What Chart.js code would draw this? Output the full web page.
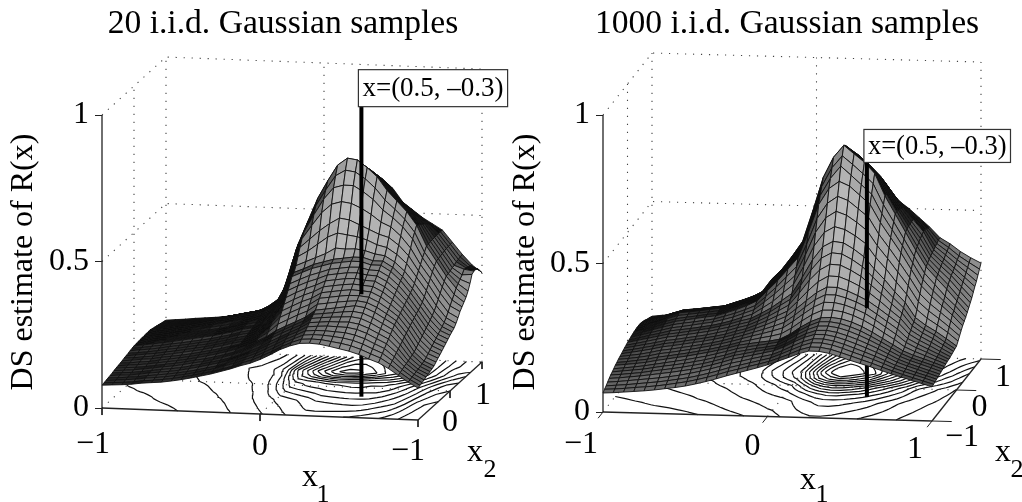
<!DOCTYPE html>
<html><head><meta charset="utf-8">
<style>html,body{margin:0;padding:0;background:#fff;overflow:hidden;width:1022px;height:502px}
canvas{position:absolute;top:0}</style>
<script src="https://cdn.jsdelivr.net/npm/chart.js@4"></script></head><body>
<canvas id="cL" width="566" height="502" style="left:0"></canvas>
<canvas id="cR" width="554" height="502" style="left:510px"></canvas>
<script>
const titles=['20 i.i.d. Gaussian samples','1000 i.i.d. Gaussian samples'];
const zAxisLabel='DS estimate of R(x)';
const zTicks=[0,0.5,1];
const pointLabel='x=(0.5, \u20130.3)';
const stickX=[0.5,-0.3];
const stickZLeft=[0,0.35,0.99];
const stickZRight=[0,0.30,0.79];
const contourLevels=[105,150,190,230,270,310,350,390,430,470,510,550,590,630,670,710];
// surface heights x1000; rows x2=-1..1, columns x1=-1..1
const zLeft=[
[78,80,82,85,90,93,96,101,107,114,122,130,140,150,162,172,186,203,222,236,246,248,246,240,233,226,216,202,190,172,150,128,109],
[80,82,84,87,92,95,99,104,110,117,125,133,143,153,166,177,192,209,227,242,254,256,255,250,245,238,227,213,200,179,153,130,112],
[82,84,87,90,95,98,102,107,113,120,128,136,147,157,170,182,198,215,233,248,262,265,264,261,257,250,239,224,210,186,157,133,115],
[84,86,89,92,97,101,105,110,116,123,131,139,150,161,174,187,204,221,239,254,270,273,273,271,269,262,251,235,220,193,161,136,118],
[86,89,91,95,100,104,108,113,120,127,135,143,153,165,178,192,210,227,245,260,278,281,283,282,281,275,263,246,230,201,165,139,122],
[88,91,93,97,102,107,111,116,123,130,138,146,156,168,182,197,216,233,250,266,286,289,292,292,293,287,274,257,240,208,168,141,125],
[91,93,96,100,105,110,114,120,127,133,141,150,160,172,187,202,223,240,256,272,294,298,301,303,305,300,286,268,250,215,172,144,128],
[93,96,98,102,107,112,117,123,130,136,144,153,163,176,191,207,229,246,262,278,302,306,310,314,317,312,298,279,260,222,176,147,131],
[95,98,101,105,110,115,120,126,133,140,148,157,167,180,195,212,235,252,268,285,310,315,320,325,330,325,310,290,270,230,180,150,135],
[97,100,104,107,113,118,123,129,136,143,151,160,170,183,200,222,251,268,285,300,324,329,334,338,341,336,321,300,277,237,187,156,142],
[99,103,107,110,116,121,126,132,139,146,154,163,172,186,205,233,268,285,301,316,338,343,348,352,352,348,332,310,285,244,195,163,149],
[102,105,109,113,119,124,130,136,142,150,158,167,175,189,210,244,284,301,318,331,351,356,361,365,363,360,344,320,292,251,202,170,155],
[104,108,112,116,122,127,133,139,145,153,161,170,178,192,215,255,300,318,334,347,365,370,375,378,375,372,355,330,300,258,210,177,162],
[106,110,114,119,125,130,136,142,148,156,164,173,181,196,222,267,317,335,350,363,379,384,389,391,386,384,366,340,307,265,217,184,169],
[109,113,117,122,128,133,139,145,151,159,167,177,184,200,230,280,335,352,367,379,393,398,403,404,398,396,378,350,315,272,225,191,176],
[111,115,120,125,131,136,142,148,154,162,170,180,187,205,237,292,352,368,383,394,406,411,416,417,409,408,389,360,322,278,232,198,183],
[113,118,123,128,134,140,146,152,158,166,174,184,190,210,245,305,370,385,400,410,420,425,430,430,420,420,400,370,330,285,240,205,190],
[114,119,125,130,136,142,148,154,160,168,176,186,192,214,250,315,378,392,408,418,428,433,438,438,428,428,408,378,338,293,248,212,196],
[115,120,126,132,138,144,150,156,162,170,179,188,196,217,255,330,395,410,425,440,460,458,460,455,445,440,420,390,350,305,258,220,202],
[116,121,127,133,140,146,152,158,164,172,181,190,200,220,259,347,420,440,465,490,505,500,495,485,470,462,440,410,365,320,270,230,212],
[116,122,128,134,141,148,154,161,167,175,183,192,203,223,265,365,445,475,505,530,550,545,530,515,500,490,465,430,380,335,285,243,225],
[117,123,129,136,142,150,156,163,170,178,185,194,206,226,273,385,468,515,560,590,600,595,580,560,535,520,490,450,395,350,300,258,240],
[117,123,130,136,143,150,157,165,172,180,187,195,208,231,283,400,485,545,600,640,650,650,630,605,570,545,515,475,412,365,315,272,250],
[118,124,130,137,144,151,158,166,173,181,188,196,212,236,295,417,497,570,625,675,695,690,668,638,598,568,535,492,425,378,328,285,260],
[118,124,131,138,145,152,160,168,175,183,190,197,215,240,305,430,510,590,650,705,730,725,700,670,625,590,555,510,440,390,340,300,270],
[116,122,128,135,141,148,155,163,170,178,185,193,211,237,300,418,497,575,635,691,717,713,689,659,614,580,546,505,441,392,342,309,285],
[114,120,126,132,138,144,151,158,165,173,180,189,207,234,295,405,483,560,620,677,703,700,678,648,603,570,538,500,443,395,345,318,305],
[112,117,123,128,134,139,146,153,160,168,175,185,202,231,290,393,469,544,605,662,689,688,667,636,591,560,529,495,444,397,350,327,330],
[110,115,120,125,130,135,141,148,155,163,170,181,198,228,285,380,455,528,590,648,675,675,655,625,580,550,520,490,445,400,352,340,335],
[108,112,117,122,126,131,136,143,150,158,165,177,193,225,280,368,441,512,575,634,661,663,644,614,569,540,511,484,445,402,358,338,335],
[106,110,114,118,122,127,131,138,145,153,160,173,189,222,275,355,428,497,560,620,648,650,633,603,558,530,503,478,445,403,360,335,330],
[104,107,111,115,118,122,126,133,140,148,155,169,184,218,270,342,414,481,545,605,634,637,621,591,546,520,494,471,445,404,362,333,318],
[102,105,108,112,115,118,122,128,135,143,150,165,180,215,265,330,400,465,530,590,620,625,610,580,535,510,485,465,445,405,365,330,305]
];
const zRight=[
[64,66,69,72,75,79,84,89,95,103,112,122,133,143,153,163,174,187,200,214,224,224,218,208,197,187,177,166,155,145,135,125,115],
[70,72,75,79,82,86,91,97,103,111,120,130,141,150,160,169,179,192,206,221,231,231,225,215,204,193,182,170,158,147,137,127,117],
[75,78,81,85,89,93,98,104,110,118,127,137,148,157,166,175,184,198,213,228,239,239,233,223,211,200,188,175,161,150,140,130,119],
[81,84,88,92,96,100,105,111,118,126,135,145,156,164,173,181,189,203,220,235,246,246,240,230,218,206,193,179,164,153,142,132,121],
[87,90,94,98,103,108,113,119,125,133,142,152,163,171,179,187,195,209,227,243,254,254,248,238,226,213,199,184,168,156,145,134,123],
[92,95,99,103,109,114,119,125,132,139,148,158,169,176,184,191,198,213,232,249,261,262,256,246,234,220,205,188,171,158,147,136,125],
[96,100,104,108,114,120,125,131,138,145,154,163,174,181,188,194,201,218,238,256,269,270,265,255,242,227,210,192,174,161,150,139,127],
[100,104,108,113,119,125,131,137,144,151,160,169,179,186,192,198,205,222,244,263,277,278,273,263,250,233,215,196,177,163,152,141,129],
[105,109,113,118,125,131,137,143,150,157,165,174,184,190,196,201,208,226,250,270,284,286,282,272,258,240,220,200,180,166,155,143,131],
[108,112,117,122,130,135,141,147,154,161,169,178,188,196,204,211,220,240,265,287,303,304,299,288,273,254,232,211,187,172,159,146,133],
[112,116,121,127,135,140,146,152,159,166,174,183,193,203,212,222,233,256,282,306,323,323,316,304,289,268,245,222,195,178,164,149,135],
[115,120,125,132,140,145,151,157,163,170,178,188,198,209,220,232,245,270,298,324,342,342,333,320,304,281,257,233,202,184,168,152,136],
[118,124,130,137,145,150,156,162,168,175,183,193,203,215,228,243,258,285,314,342,361,361,350,335,318,295,270,245,210,190,173,155,138],
[121,127,134,141,149,154,160,166,172,179,187,198,207,221,236,253,270,304,340,372,392,391,378,361,338,312,283,256,217,196,178,159,140],
[124,131,138,145,153,158,164,170,176,184,192,203,212,227,244,264,284,325,370,405,425,423,407,387,358,330,297,267,225,202,184,163,143],
[127,134,142,150,158,163,169,175,181,189,197,208,217,234,252,275,297,345,397,438,457,454,436,413,379,347,311,278,232,208,190,167,145],
[130,138,146,154,162,167,173,179,185,193,202,213,222,240,260,285,310,365,425,470,489,485,465,440,400,365,325,290,240,215,195,172,148],
[132,140,149,157,166,171,176,182,188,196,206,218,230,252,275,305,334,396,465,512,532,523,503,478,432,394,351,311,260,232,210,186,158],
[134,143,152,161,170,175,181,187,193,202,212,225,238,265,293,325,357,427,505,555,577,565,542,515,465,423,378,333,280,250,225,198,169],
[136,145,155,165,174,180,185,191,197,207,218,231,246,277,309,345,381,458,545,597,621,608,581,553,497,452,404,354,300,267,240,212,180],
[138,147,157,168,178,184,190,196,201,212,224,238,255,290,325,365,405,490,585,640,665,650,620,590,530,480,430,375,320,285,255,225,190],
[139,149,159,171,181,187,192,198,203,214,227,241,258,297,333,373,417,508,609,668,710,680,649,618,553,500,447,390,335,298,265,233,198],
[140,151,161,174,185,190,195,200,205,216,229,243,261,304,340,382,428,527,633,697,738,710,680,647,577,520,463,405,350,313,275,243,206],
[140,152,163,176,188,192,197,202,207,218,230,245,264,310,345,390,440,545,657,726,767,739,712,675,600,540,480,420,365,328,292,253,215],
[140,152,163,176,187,191,196,201,206,217,229,243,261,306,342,387,437,542,653,722,760,733,705,668,600,542,484,426,371,335,300,261,225],
[138,150,160,172,183,187,192,197,201,213,225,239,258,300,337,383,433,535,645,713,750,725,695,660,595,540,487,434,377,342,310,272,235],
[135,147,156,167,178,182,186,191,196,208,220,233,253,293,332,378,429,525,632,700,738,715,685,650,590,537,488,440,382,349,318,281,245],
[132,141,150,159,169,173,178,183,189,200,212,227,248,287,325,372,425,516,617,683,722,703,673,638,583,534,489,445,386,355,324,291,258],
[128,135,143,151,160,164,169,174,181,192,204,220,242,280,318,365,420,505,600,665,705,690,660,625,575,530,490,450,390,360,330,300,270],
[124,130,137,145,154,158,162,167,175,185,197,214,236,272,311,358,415,497,585,650,692,676,647,611,563,522,486,448,394,367,338,310,281],
[121,126,132,140,148,152,156,161,168,179,191,207,230,265,304,352,410,488,572,633,678,664,634,598,550,514,481,446,398,373,345,320,295],
[117,122,127,134,141,145,149,153,161,172,184,201,225,257,297,346,405,479,558,617,664,652,622,584,537,507,475,443,402,379,352,330,309],
[114,118,122,128,135,138,142,146,155,166,178,195,220,250,290,340,400,470,545,600,650,640,610,570,525,500,470,440,405,385,360,340,323]
];

const SERIF='"Liberation Serif","Times New Roman",serif';
const INK='#000';

function panel(c){
  const kx=c.x2dx/c.x1px, t=(a)=>a+1;
  const P=(a,b,z)=>({x:a+kx*t(b), y:z-(c.x1dy*t(a)-c.x2dy*t(b))/c.zpx});
  const line=(pts,o)=>Object.assign({data:pts,showLine:true,pointRadius:0,borderColor:INK,borderWidth:1,fill:false,tension:0,clip:false},o||{});
  const drawn=[]; // in painting order, back first
  const dots={borderColor:'#444',borderDash:[1.2,6.8],borderWidth:1.1};
  [[-1,1],[1,1],[-1,0],[0,1]].forEach(([a,b])=>drawn.push(line([P(a,b,0),P(a,b,1)],dots)));
  [1,0.5,0].forEach(z=>drawn.push(line([P(-1,-1,z),P(-1,1,z),P(1,1,z)],dots)));
  drawn.push(line([P(-1,0,0),P(1,0,0)],dots),line([P(0,-1,0),P(0,1,0)],dots));
  // contours on the floor, from the height table
  const Z=c.z,n=Z.length-1,g=k=>-1+2*k/n;
  contourLevels.forEach(lv=>{
    const pts=[];
    for(let j=0;j<n;j++)for(let i=0;i<n;i++){
      const q=[[i,j],[i+1,j],[i+1,j+1],[i,j+1]],hit=[];
      for(let e=0;e<4;e++){
        const A=q[e],B=q[(e+1)%4],za=Z[A[1]][A[0]],zb=Z[B[1]][B[0]];
        if((za<lv)!==(zb<lv)){const f=(lv-za)/(zb-za);
          hit.push(P(g(A[0]+f*(B[0]-A[0])),g(A[1]+f*(B[1]-A[1])),0));}
      }
      for(let h=0;h+1<hit.length;h+=2)pts.push(hit[h],hit[h+1],{x:null,y:null});
    }
    drawn.push(line(pts,{borderWidth:1.2,borderColor:'#111',spanGaps:false}));
  });
  const s=stickX,sz=c.stick;
  drawn.push(line([P(s[0],s[1],sz[0]),P(s[0],s[1],sz[1])],{borderWidth:4}));
  // surface, painted back to front with opaque cells; the cell tone stands for the fine mesh of the original
  const shade=(A,B,C,D)=>{
    const ux=((B.x-A.x)+(C.x-D.x))/2*c.x1px,uy=((B.y-A.y)+(C.y-D.y))/2*c.zpx;
    const vx=((D.x-A.x)+(C.x-B.x))/2*c.x1px,vy=((D.y-A.y)+(C.y-B.y))/2*c.zpx;
    const cr=Math.abs(ux*vy-uy*vx)+1e-6,lu=Math.hypot(ux,uy),lv=Math.hypot(vx,vy);
    const f=32/60,w=1.05;
    const cov=1-(1-Math.min(1,w*lv/(cr*f)))*(1-Math.min(1,w*lu/(cr*f)));
    const gray=Math.round(255*(1-0.95*cov));
    return 'rgb('+gray+','+gray+','+gray+')';
  };
  for(let j=n-1;j>=0;j--)for(let i=0;i<n;i++){
    const v=(a,b)=>P(g(a),g(b),Z[b][a]/1000);
    const A=v(i,j),B=v(i+1,j),C=v(i+1,j+1),D=v(i,j+1);
    drawn.push(line([A,B,C,D,A],{fill:'shape',backgroundColor:shade(A,B,C,D),borderColor:c.mesh,borderWidth:0.9}));
  }
  drawn.push(line([P(s[0],s[1],sz[1]),P(s[0],s[1],sz[2])],{borderWidth:4}));
  // axes
  const ax={borderColor:'#222',borderWidth:1.3};
  drawn.push(line([P(-1,-1,0),P(-1,-1,1)],ax),line([P(-1,-1,0),P(1,-1,0)],ax),line([P(1,-1,0),P(1,1,0)],ax));
  c.ticks(P).forEach(tk=>drawn.push(line(tk,{borderColor:'#222',borderWidth:1})));

  const textPlugin={id:'panelText',afterDatasetsDraw(ch){
    const x=ch.scales.x,y=ch.scales.y,ctx=ch.ctx;
    const px=(p)=>[x.getPixelForValue(p.x),y.getPixelForValue(p.y)];
    ctx.save();ctx.fillStyle=INK;ctx.textAlign='center';ctx.textBaseline='middle';
    ctx.font='32px '+SERIF;
    c.labels.forEach(l=>{const [u,v]=px(P(l.a,l.b,0));ctx.fillText(l.t,u+l.dx,v+l.dy);});
    c.names.forEach(l=>{ctx.font=l.s+'px '+SERIF;ctx.fillText(l.t,l.x,l.y);});
    const [u,v]=px(P(s[0],s[1],sz[2]));
    ctx.font=c.boxFont+'px '+SERIF;ctx.textAlign='left';
    const w=ctx.measureText(pointLabel).width+8,h=c.boxH;
    ctx.fillStyle='#fff';ctx.strokeStyle='#333';ctx.lineWidth=1.2;
    ctx.fillRect(u-3,v-h,w,h);ctx.strokeRect(u-3,v-h,w,h);
    ctx.fillStyle=INK;ctx.fillText(pointLabel,u+1,v-h/2+1);
    ctx.restore();
  }};
  new Chart(document.getElementById(c.id),{type:'scatter',
    data:{datasets:drawn.reverse()},
    options:{responsive:false,animation:false,devicePixelRatio:1,events:[],
      layout:{padding:{top:0,left:0,right:0,bottom:26}},
      plugins:{legend:{display:false},tooltip:{enabled:false},
        title:{display:true,text:c.title,color:INK,font:{family:SERIF,size:33.6,weight:'normal',lineHeight:1.15},padding:{top:5,bottom:4.4}}},
      scales:{
        x:{type:'linear',display:false,min:-1,max:c.xMax},
        y:{type:'linear',min:c.yMin,max:c.yMax,
          afterBuildTicks(a){a.ticks=zTicks.map(value=>({value}));},
          afterFit(a){a.width=c.left;},
          border:{display:false},
          grid:{drawOnChartArea:false,drawTicks:true,tickLength:7,color:'#222'},
          ticks:{color:INK,padding:6,font:{family:SERIF,size:32},callback:v=>String(v)},
          title:{display:true,text:zAxisLabel,color:INK,font:{family:SERIF,size:32,lineHeight:1},padding:{top:c.tpad,bottom:0}}}
      }},
    plugins:[textPlugin]});
}
panel({id:'cL',title:titles[0],z:zLeft,stick:stickZLeft,mesh:'#111',left:102,
  x1px:158,x2dx:32,x1dy:6,x2dy:29,zpx:293,boxH:37,boxFont:27,tpad:8,
  xMax:-1+464/158,yMin:(408-476)/293,yMax:(408-48)/293,
  ticks:P=>[[-1,-1],[0,-1],[1,-1]].map(([a,b])=>[P(a,b,0),P(a,b,-0.024)]).concat([[1,0],[1,1]].map(([a,b])=>[P(a,b,0),P(a,b,-0.024)])),
  labels:[{t:'\u22121',a:-1,b:-1,dx:-9,dy:37},{t:'0',a:0,b:-1,dx:0,dy:33},
          {t:'\u22121',a:1,b:-1,dx:-10,dy:32},{t:'0',a:1,b:0,dx:0,dy:32},{t:'1',a:1,b:1,dx:1,dy:34}],
  names:[{t:'x',x:310,y:478,s:32},{t:'1',x:323,y:495,s:26},{t:'x',x:475,y:453,s:32},{t:'2',x:490,y:470,s:26}]});
panel({id:'cR',title:titles[1],z:zRight,stick:stickZRight,mesh:'#111',left:93,
  x1px:164.5,x2dx:24.5,x1dy:4.5,x2dy:31,zpx:297,boxH:33,boxFont:26.5,tpad:0,
  xMax:-1+461/164.5,yMin:(412-476)/297,yMax:(412-48)/297,
  ticks:P=>[-1,0,1].map(a=>[P(a,-1,0),P(a,-1.2,0)]).concat([-1,0,1].map(b=>[P(1,b,0),P(1.12,b,0)])),
  labels:[{t:'\u22121',a:-1,b:-1,dx:-22,dy:33},{t:'0',a:0,b:-1,dx:-15,dy:30},{t:'1',a:1,b:-1,dx:-17,dy:29},
          {t:'\u22121',a:1,b:-1,dx:30,dy:17},{t:'0',a:1,b:0,dx:23,dy:18},{t:'1',a:1,b:1,dx:22,dy:19}],
  names:[{t:'x',x:298,y:481,s:32},{t:'1',x:312,y:495,s:26},{t:'x',x:493,y:453,s:32},{t:'2',x:507,y:470,s:26}]});
</script></body></html>
